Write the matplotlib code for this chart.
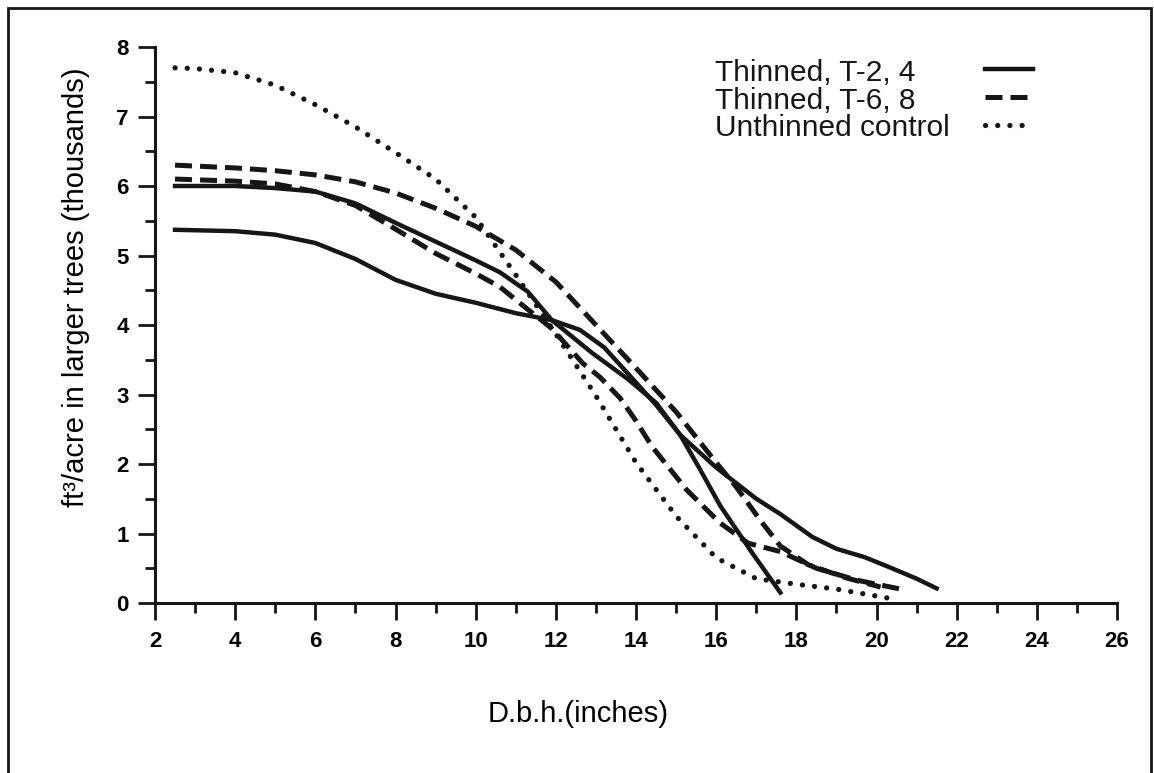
import matplotlib.pyplot as plt
from matplotlib.patches import Rectangle
from matplotlib.ticker import MultipleLocator

plt.rcParams['font.family'] = ['Liberation Sans', 'DejaVu Sans']

# d.b.h. (inches) vs ft3/acre in larger trees (thousands)
t2_dbh = [2.5, 4, 5, 6, 7, 8, 9, 10, 10.6, 11.3, 11.9, 12.9, 13.8, 14.5, 15.1, 15.6, 16.1, 16.9, 17.6]
t2_vol = [6.0, 6.0, 5.97, 5.92, 5.75, 5.47, 5.2, 4.93, 4.76, 4.48, 4.07, 3.6, 3.22, 2.88, 2.42, 1.92, 1.4, 0.72, 0.15]

t4_dbh = [2.5, 4, 5, 6, 7, 8, 9, 10, 11, 11.9, 12.6, 13.2, 13.8, 14.5, 15.1, 16, 17, 17.6, 18.4, 19, 19.7, 20.3, 21, 21.5]
t4_vol = [5.37, 5.35, 5.3, 5.18, 4.95, 4.65, 4.45, 4.32, 4.17, 4.07, 3.93, 3.68, 3.3, 2.85, 2.42, 1.95, 1.5, 1.28, 0.95, 0.78, 0.66, 0.52, 0.35, 0.21]

t6_dbh = [2.5, 4, 5, 6, 7, 8, 9, 10, 11, 12, 13, 14, 15, 16, 16.5, 17.1, 17.6, 18.3, 19.25, 20.1]
t6_vol = [6.3, 6.26, 6.22, 6.16, 6.06, 5.9, 5.68, 5.42, 5.08, 4.62, 4.0, 3.38, 2.75, 2.02, 1.67, 1.19, 0.82, 0.55, 0.36, 0.23]

t8_dbh = [2.5, 4, 5, 6, 7, 8, 9, 10, 10.6, 11.2, 11.9, 12.67, 13.1, 13.6, 14.0, 14.4, 15.26, 16.1, 16.8, 17.6, 18.5, 19.5, 20.6]
t8_vol = [6.1, 6.07, 6.03, 5.92, 5.72, 5.38, 5.03, 4.74, 4.55, 4.27, 3.95, 3.45, 3.25, 2.95, 2.62, 2.25, 1.63, 1.15, 0.86, 0.74, 0.5, 0.33, 0.2]

ctl_dbh = [2.5, 3, 4, 5, 6, 7, 8, 9, 10, 11, 12, 13, 14, 15, 16, 17, 18, 19, 20.3]
ctl_vol = [7.7, 7.69, 7.63, 7.45, 7.17, 6.85, 6.48, 6.1, 5.55, 4.72, 3.87, 2.98, 2.02, 1.25, 0.65, 0.35, 0.27, 0.2, 0.07]

legend_labels = ['Thinned, T-2, 4', 'Thinned, T-6, 8', 'Unthinned control']

ink = '#161616'

fig = plt.figure(figsize=(11.54, 7.73), dpi=100)
ax = fig.add_axes([0.1343, 0.2199, 0.8337, 0.7193])

solid = dict(color=ink, lw=3.2, linestyle='-')
dashed = dict(color=ink, lw=3.6, linestyle=(0, (3.4, 1.6)))
dotted = dict(color=ink, lw=3.8, linestyle=(0, (0.01, 2.3)), dash_capstyle='round')

h_solid, = ax.plot(t2_dbh, t2_vol, **solid)
ax.plot(t4_dbh, t4_vol, **solid)
h_dash, = ax.plot(t6_dbh, t6_vol, **dashed)
ax.plot(t8_dbh, t8_vol, **dashed)
h_dot, = ax.plot(ctl_dbh, ctl_vol, **dotted)

ax.set_xlim(2, 26)
ax.set_ylim(0, 8)
ax.set_xticks(range(2, 27, 2))
ax.set_yticks(range(0, 9))
ax.xaxis.set_minor_locator(MultipleLocator(1))
ax.yaxis.set_minor_locator(MultipleLocator(0.5))

for side in ['top', 'right']:
    ax.spines[side].set_visible(False)
for side in ['left', 'bottom']:
    ax.spines[side].set_linewidth(2.2)
    ax.spines[side].set_color(ink)

ax.tick_params(which='major', length=12, width=2, direction='out', color=ink, labelsize=16)
ax.tick_params(which='minor', length=7, width=2, direction='out', color=ink)
ax.tick_params(axis='x', which='major', pad=8)
ax.tick_params(axis='y', which='major', pad=7)
for lbl in ax.get_xticklabels() + ax.get_yticklabels():
    lbl.set_fontweight('bold')

ax.set_xlabel('D.b.h.(inches)', fontsize=21)
ax.xaxis.set_label_coords(0.44, -0.174)
ax.set_ylabel('ft\u00b3/acre in larger trees (thousands)', fontsize=21)
ax.yaxis.set_label_coords(-0.068, 0.568)

# legend: labels left-aligned, line samples in a column to their right
for lab, yb in zip(legend_labels, [0.939, 0.888, 0.840]):
    ax.text(0.582, yb, lab, transform=ax.transAxes, fontsize=21.5,
            ha='left', va='baseline', color=ink)
ax.legend([h_solid, h_dash, h_dot], ['', '', ''], loc='upper left',
          bbox_to_anchor=(0.863, 0.981), frameon=False, fontsize=21.5,
          handlelength=1.6, handletextpad=0, labelspacing=0,
          borderpad=0, borderaxespad=0)

# scanned page frame around the figure
fig.add_artist(Rectangle((8 / 1154, -0.02), 1143 / 1154, 1 - 8 / 773 + 0.02,
                         transform=fig.transFigure, fill=False, lw=2, ec=ink))

fig.savefig('out.png', dpi=100)
